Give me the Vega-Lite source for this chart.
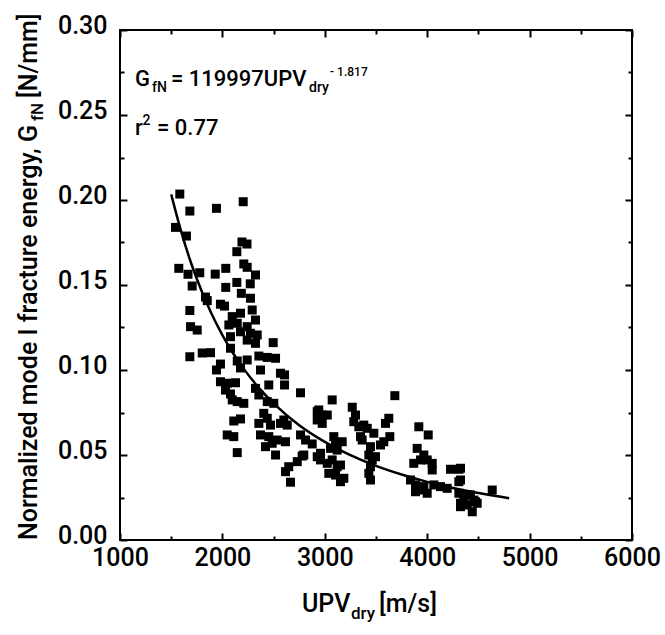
{
  "$schema": "https://vega.github.io/schema/vega-lite/v6.json",
  "width": 512,
  "height": 510,
  "autosize": {"type": "none"},
  "padding": {"left": 120, "top": 30, "right": 33, "bottom": 95},
  "background": "white",
  "data": {"values": [{}]},
  "config": {
    "view": {"stroke": "black", "strokeWidth": 2},
    "axis": {"domain": false, "grid": false, "labelFont": "Roboto", "labelFontWeight": 500, "labelFontSize": 25, "labelColor": "black", "tickColor": "black", "tickWidth": 2, "title": null},
    "text": {"font": "Roboto", "fontWeight": 500, "color": "black"}
  },
  "datasets": {
    "points": [
      {"upv":1584,"gfn":0.2035},{"upv":1682,"gfn":0.1935},{"upv":1942,"gfn":0.1951},{"upv":2203,"gfn":0.1990},
      {"upv":1542,"gfn":0.1839},{"upv":1649,"gfn":0.1788},{"upv":2191,"gfn":0.1753},{"upv":2240,"gfn":0.1741},
      {"upv":2141,"gfn":0.1696},{"upv":2209,"gfn":0.1624},{"upv":2242,"gfn":0.1604},{"upv":1574,"gfn":0.1598},
      {"upv":1664,"gfn":0.1563},{"upv":1779,"gfn":0.1572},{"upv":1930,"gfn":0.1564},{"upv":2033,"gfn":0.1598},
      {"upv":2323,"gfn":0.1559},{"upv":2141,"gfn":0.1515},{"upv":2272,"gfn":0.1507},{"upv":1705,"gfn":0.1494},
      {"upv":2033,"gfn":0.1486},{"upv":1835,"gfn":0.1429},{"upv":1852,"gfn":0.1408},{"upv":1981,"gfn":0.1387},
      {"upv":2021,"gfn":0.1376},{"upv":2185,"gfn":0.1451},{"upv":2274,"gfn":0.1422},{"upv":1682,"gfn":0.1350},
      {"upv":1689,"gfn":0.1255},{"upv":1754,"gfn":0.1235},{"upv":2096,"gfn":0.1314},{"upv":2177,"gfn":0.1334},
      {"upv":2291,"gfn":0.1353},{"upv":2323,"gfn":0.1294},{"upv":2063,"gfn":0.1265},{"upv":2145,"gfn":0.1275},
      {"upv":2242,"gfn":0.1255},{"upv":2177,"gfn":0.1225},{"upv":2274,"gfn":0.1216},{"upv":2340,"gfn":0.1206},
      {"upv":2079,"gfn":0.1196},{"upv":2242,"gfn":0.1176},{"upv":2323,"gfn":0.1157},{"upv":2496,"gfn":0.1161},
      {"upv":2079,"gfn":0.1128},{"upv":1682,"gfn":0.1078},{"upv":1803,"gfn":0.1100},{"upv":1884,"gfn":0.1102},
      {"upv":1981,"gfn":0.1035},{"upv":1942,"gfn":0.1000},{"upv":2145,"gfn":0.1053},{"upv":2242,"gfn":0.1059},
      {"upv":2177,"gfn":0.1012},{"upv":2356,"gfn":0.1082},{"upv":2438,"gfn":0.1074},{"upv":2519,"gfn":0.1069},
      {"upv":2372,"gfn":0.1000},{"upv":2567,"gfn":0.0981},{"upv":2607,"gfn":0.0971},{"upv":1981,"gfn":0.0931},
      {"upv":2047,"gfn":0.0922},{"upv":2128,"gfn":0.0925},{"upv":2453,"gfn":0.0912},{"upv":2607,"gfn":0.0912},
      {"upv":2030,"gfn":0.0882},{"upv":2079,"gfn":0.0859},{"upv":2323,"gfn":0.0892},{"upv":2356,"gfn":0.0853},
      {"upv":2763,"gfn":0.0866},{"upv":2096,"gfn":0.0824},{"upv":2145,"gfn":0.0814},{"upv":2209,"gfn":0.0804},
      {"upv":2438,"gfn":0.0814},{"upv":2502,"gfn":0.0804},{"upv":2404,"gfn":0.0745},{"upv":2438,"gfn":0.0716},
      {"upv":2111,"gfn":0.0700},{"upv":2177,"gfn":0.0712},{"upv":2600,"gfn":0.0706},{"upv":2633,"gfn":0.0676},
      {"upv":2356,"gfn":0.0686},{"upv":2470,"gfn":0.0676},{"upv":2567,"gfn":0.0686},{"upv":2047,"gfn":0.0618},
      {"upv":2111,"gfn":0.0608},{"upv":2372,"gfn":0.0618},{"upv":2453,"gfn":0.0608},{"upv":2535,"gfn":0.0588},
      {"upv":2421,"gfn":0.0549},{"upv":2486,"gfn":0.0569},{"upv":2616,"gfn":0.0578},{"upv":2763,"gfn":0.0618},
      {"upv":2812,"gfn":0.0588},{"upv":2877,"gfn":0.0565},{"upv":2145,"gfn":0.0514},{"upv":2519,"gfn":0.0500},
      {"upv":2779,"gfn":0.0494},{"upv":2731,"gfn":0.0461},{"upv":2648,"gfn":0.0431},{"upv":2616,"gfn":0.0402},
      {"upv":2665,"gfn":0.0340},{"upv":2926,"gfn":0.0755},{"upv":2926,"gfn":0.0706},{"upv":2926,"gfn":0.0490},
      {"upv":3072,"gfn":0.0824},{"upv":2941,"gfn":0.0765},{"upv":2975,"gfn":0.0735},{"upv":3024,"gfn":0.0735},
      {"upv":2975,"gfn":0.0686},{"upv":3268,"gfn":0.0781},{"upv":3300,"gfn":0.0735},{"upv":3283,"gfn":0.0696},
      {"upv":3332,"gfn":0.0666},{"upv":3684,"gfn":0.0849},{"upv":3625,"gfn":0.0716},{"upv":3593,"gfn":0.0686},
      {"upv":3381,"gfn":0.0676},{"upv":3414,"gfn":0.0657},{"upv":3349,"gfn":0.0608},{"upv":3365,"gfn":0.0588},
      {"upv":3479,"gfn":0.0628},{"upv":3635,"gfn":0.0608},{"upv":3918,"gfn":0.0666},{"upv":4010,"gfn":0.0618},
      {"upv":2795,"gfn":0.0500},{"upv":2958,"gfn":0.0510},{"upv":2958,"gfn":0.0471},{"upv":3088,"gfn":0.0608},
      {"upv":3105,"gfn":0.0569},{"upv":3170,"gfn":0.0578},{"upv":3056,"gfn":0.0539},{"upv":3121,"gfn":0.0529},
      {"upv":3024,"gfn":0.0451},{"upv":3072,"gfn":0.0471},{"upv":3121,"gfn":0.0431},{"upv":3153,"gfn":0.0441},
      {"upv":3039,"gfn":0.0392},{"upv":3105,"gfn":0.0382},{"upv":3153,"gfn":0.0343},{"upv":3186,"gfn":0.0363},
      {"upv":3446,"gfn":0.0549},{"upv":3544,"gfn":0.0559},{"upv":3576,"gfn":0.0578},{"upv":3430,"gfn":0.0500},
      {"upv":3463,"gfn":0.0471},{"upv":3446,"gfn":0.0431},{"upv":3430,"gfn":0.0392},{"upv":3446,"gfn":0.0353},
      {"upv":3495,"gfn":0.0490},{"upv":3902,"gfn":0.0539},{"upv":3967,"gfn":0.0500},{"upv":3869,"gfn":0.0451},
      {"upv":3935,"gfn":0.0471},{"upv":4000,"gfn":0.0471},{"upv":4049,"gfn":0.0451},{"upv":4049,"gfn":0.0412},
      {"upv":3837,"gfn":0.0353},{"upv":3886,"gfn":0.0324},{"upv":3918,"gfn":0.0294},{"upv":3967,"gfn":0.0314},
      {"upv":4000,"gfn":0.0275},{"upv":3886,"gfn":0.0284},{"upv":4065,"gfn":0.0324},{"upv":4228,"gfn":0.0416},
      {"upv":4309,"gfn":0.0416},{"upv":4309,"gfn":0.0343},{"upv":4130,"gfn":0.0314},{"upv":4195,"gfn":0.0304},
      {"upv":4309,"gfn":0.0275},{"upv":4358,"gfn":0.0255},{"upv":4423,"gfn":0.0265},{"upv":4455,"gfn":0.0235},
      {"upv":4325,"gfn":0.0216},{"upv":4391,"gfn":0.0206},{"upv":4472,"gfn":0.0225},{"upv":4440,"gfn":0.0166},
      {"upv":4325,"gfn":0.0196},{"upv":4635,"gfn":0.0294},{"upv":4488,"gfn":0.0216},{"upv":4391,"gfn":0.0265},
      {"upv":4325,"gfn":0.0353},{"upv":4325,"gfn":0.0422}
    ],
    "fit": [
      {"upv":1500,"gfn":0.2033},{"upv":1600,"gfn":0.1809},{"upv":1700,"gfn":0.1619},{"upv":1800,"gfn":0.1460},
      {"upv":1900,"gfn":0.1323},{"upv":2000,"gfn":0.1205},{"upv":2100,"gfn":0.1103},{"upv":2200,"gfn":0.1014},
      {"upv":2350,"gfn":0.0899},{"upv":2500,"gfn":0.0804},{"upv":2750,"gfn":0.0675},{"upv":3000,"gfn":0.0577},
      {"upv":3250,"gfn":0.0499},{"upv":3500,"gfn":0.0436},{"upv":3750,"gfn":0.0385},{"upv":4000,"gfn":0.0342},
      {"upv":4250,"gfn":0.0306},{"upv":4500,"gfn":0.0276},{"upv":4800,"gfn":0.0246}
    ]
  },
  "layer": [
    {
      "data": {"name": "points"},
      "mark": {"type": "point", "shape": "square", "filled": true, "size": 81, "color": "black", "opacity": 1},
      "encoding": {
        "x": {"field": "upv", "type": "quantitative", "scale": {"domain": [1000, 6000], "nice": false, "zero": false},
          "axis": {"orient": "bottom", "values": [1000,1500,2000,2500,3000,3500,4000,4500,5000,5500,6000], "format": "d",
            "labelExpr": "datum.value % 1000 === 0 ? datum.label : ''",
            "tickSize": {"condition": {"test": "datum.value % 1000 === 0", "value": -7}, "value": -4},
            "labelPadding": 12, "labelFlush": false, "labelOverlap": false}},
        "y": {"field": "gfn", "type": "quantitative", "scale": {"domain": [0, 0.3], "nice": false, "zero": false},
          "axis": {"orient": "left", "values": [0,0.025,0.05,0.075,0.1,0.125,0.15,0.175,0.2,0.225,0.25,0.275,0.3], "format": ".2f",
            "labelExpr": "round(datum.value*1000) % 50 === 0 ? datum.label : ''",
            "tickSize": {"condition": {"test": "round(datum.value*1000) % 50 === 0", "value": -7}, "value": -4},
            "labelPadding": 20, "labelOffset": -5, "labelFlush": false, "labelOverlap": false}}
      }
    },
    {
      "data": {"name": "fit"},
      "mark": {"type": "line", "color": "black", "strokeWidth": 2.5, "interpolate": "monotone"},
      "encoding": {
        "x": {"field": "upv", "type": "quantitative", "scale": {"domain": [1000, 6000], "nice": false, "zero": false},
          "axis": {"orient": "top", "labels": false, "values": [1000,1500,2000,2500,3000,3500,4000,4500,5000,5500,6000],
            "tickSize": {"condition": {"test": "datum.value % 1000 === 0", "value": -7}, "value": -4}}},
        "y": {"field": "gfn", "type": "quantitative", "scale": {"domain": [0, 0.3], "nice": false, "zero": false},
          "axis": {"orient": "right", "labels": false, "values": [0,0.025,0.05,0.075,0.1,0.125,0.15,0.175,0.2,0.225,0.25,0.275,0.3],
            "tickSize": {"condition": {"test": "round(datum.value*1000) % 50 === 0", "value": -7}, "value": -4}}}
      }
    },
    {"mark": {"type": "text", "text": "G", "fontSize": 22, "align": "left", "baseline": "alphabetic"},
     "encoding": {"x": {"datum": 1146, "type": "quantitative", "axis": null}, "y": {"datum": 0.2671, "type": "quantitative", "axis": null}}},
    {"mark": {"type": "text", "text": "fN", "fontSize": 14, "align": "left", "baseline": "alphabetic"},
     "encoding": {"x": {"datum": 1312, "type": "quantitative", "axis": null}, "y": {"datum": 0.2635, "type": "quantitative", "axis": null}}},
    {"mark": {"type": "text", "text": "= 119997UPV", "fontSize": 22, "align": "left", "baseline": "alphabetic"},
     "encoding": {"x": {"datum": 1498, "type": "quantitative", "axis": null}, "y": {"datum": 0.2671, "type": "quantitative", "axis": null}}},
    {"mark": {"type": "text", "text": "dry", "fontSize": 14, "align": "left", "baseline": "alphabetic"},
     "encoding": {"x": {"datum": 2846, "type": "quantitative", "axis": null}, "y": {"datum": 0.2635, "type": "quantitative", "axis": null}}},
    {"mark": {"type": "text", "text": "- 1.817", "fontSize": 12, "align": "left", "baseline": "alphabetic"},
     "encoding": {"x": {"datum": 3051, "type": "quantitative", "axis": null}, "y": {"datum": 0.2729, "type": "quantitative", "axis": null}}},
    {"mark": {"type": "text", "text": "r", "fontSize": 22, "align": "left", "baseline": "alphabetic"},
     "encoding": {"x": {"datum": 1146, "type": "quantitative", "axis": null}, "y": {"datum": 0.2382, "type": "quantitative", "axis": null}}},
    {"mark": {"type": "text", "text": "2", "fontSize": 14, "align": "left", "baseline": "alphabetic"},
     "encoding": {"x": {"datum": 1220, "type": "quantitative", "axis": null}, "y": {"datum": 0.2441, "type": "quantitative", "axis": null}}},
    {"mark": {"type": "text", "text": "= 0.77", "fontSize": 22, "align": "left", "baseline": "alphabetic"},
     "encoding": {"x": {"datum": 1361, "type": "quantitative", "axis": null}, "y": {"datum": 0.2382, "type": "quantitative", "axis": null}}},
    {"mark": {"type": "text", "text": "UPV", "fontSize": 25, "align": "left", "baseline": "alphabetic"},
     "encoding": {"x": {"datum": 2777, "type": "quantitative", "axis": null}, "y": {"datum": -0.0424, "type": "quantitative", "axis": null}}},
    {"mark": {"type": "text", "text": "dry", "fontSize": 17, "align": "left", "baseline": "alphabetic"},
     "encoding": {"x": {"datum": 3256, "type": "quantitative", "axis": null}, "y": {"datum": -0.0465, "type": "quantitative", "axis": null}}},
    {"mark": {"type": "text", "text": "[m/s]", "fontSize": 25, "align": "left", "baseline": "alphabetic"},
     "encoding": {"x": {"datum": 3529, "type": "quantitative", "axis": null}, "y": {"datum": -0.0424, "type": "quantitative", "axis": null}}},
    {"mark": {"type": "text", "text": "Normalized mode I fracture energy, G", "fontSize": 25, "angle": 270, "align": "left", "baseline": "alphabetic"},
     "encoding": {"x": {"datum": 189, "type": "quantitative", "axis": null}, "y": {"datum": 0.0, "type": "quantitative", "axis": null}}},
    {"mark": {"type": "text", "text": "fN", "fontSize": 17, "angle": 270, "align": "left", "baseline": "alphabetic"},
     "encoding": {"x": {"datum": 248, "type": "quantitative", "axis": null}, "y": {"datum": 0.2465, "type": "quantitative", "axis": null}}},
    {"mark": {"type": "text", "text": "[N/mm]", "fontSize": 25, "angle": 270, "align": "left", "baseline": "alphabetic"},
     "encoding": {"x": {"datum": 189, "type": "quantitative", "axis": null}, "y": {"datum": 0.26, "type": "quantitative", "axis": null}}}
  ],
  "resolve": {"axis": {"x": "independent", "y": "independent"}}
}
